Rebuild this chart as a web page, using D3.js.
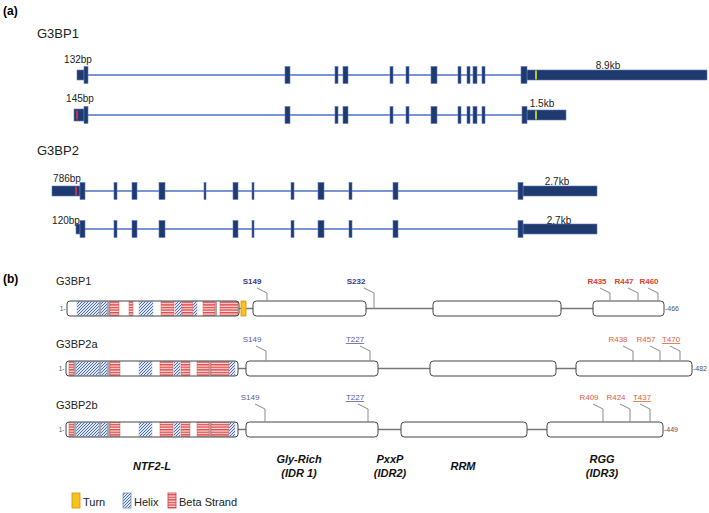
<!DOCTYPE html>
<html><head><meta charset="utf-8">
<script src="https://cdn.jsdelivr.net/npm/d3@7"></script>
<style>body{margin:0;background:#fff}svg{display:block;font-family:"Liberation Sans",Arial,sans-serif}</style>
</head><body><svg id="c" width="709" height="513"></svg>
<script>
// ---------------- DATA ----------------
// Panel (a): transcripts (schematic genomic coordinates)
const txGenes = ["G3BP1", "G3BP2"];
const tx5Labels = ["132bp", "145bp", "786bp", "120bp"];
const tx3Labels = ["8.9kb", "1.5kb", "2.7kb", "2.7kb"];
const txUtr5 = [[77, 84], [74, 84], [52, 80], [76, 80]];
const txFirstCds = [[84, 88], [84, 88], [80, 85], [80, 85]];
const g3bp1Exons = [[285, 290], [335, 338], [343, 348], [390, 393], [406, 409], [431, 437], [458, 461], [467, 470], [473, 477], [482, 485]];
const g3bp2aExons = [[114, 117], [132, 137], [159, 165], [204, 206], [233, 238], [252, 254], [291, 294], [318, 324], [349, 352], [393, 398]];
const g3bp2bExons = [[114, 117], [132, 137], [159, 165], [233, 238], [252, 254], [291, 294], [318, 324], [349, 352], [393, 398]];
const txInternal = [g3bp1Exons, g3bp1Exons, g3bp2aExons, g3bp2bExons];
const txLastCds = [[521, 527], [522, 527], [518, 523], [518, 523]];
const txUtr3 = [[527, 707], [527, 566], [523, 597], [523, 597]];
const txStartMark = [null, 77, 76, null];
const txStopMark = [536, 536, null, null];

// Panel (b): protein domains (schematic coordinates)
const proteins = ["G3BP1", "G3BP2a", "G3BP2b"];
const proteinLength = [466, 482, 449];
const ntf2Range = [[67, 239], [66, 238], [66, 238]];
const turnRange = [[241, 246], null, null];
const glyRange = [[253, 366], [246, 378], [246, 378]];
const rrmRange = [[433, 561], [430, 556], [401, 527]];
const rggRange = [[593, 664], [576, 692], [547, 663]];
const ntf2G3BP1 = [["H",77,99],["G",99,101],["H",101,107],["G",107,110],["B",110,119],["B",129,133],["H",139,153],["B",161,174],["H",175,182],["B",182,193],["H",193,197],["B",203,215],["G",215,217],["B",220,238]];
const ntf2G3BP2 = [["B",69,74],["G",74,76],["H",76,99],["G",99,101],["H",101,107],["G",107,110],["B",110,120],["H",139,152],["B",160,173],["H",174,180],["B",181,190],["B",197,209],["G",209,211],["B",211,229],["H",229,235]];
const ntf2Segments = [ntf2G3BP1, ntf2G3BP2, ntf2G3BP2];
const siteLabels = [
  ["S149", "S232", "R435", "R447", "R460"],
  ["S149", "T227", "R438", "R457", "T470"],
  ["S149", "T227", "R409", "R424", "T437"]
];
const siteAttach = [
  [267, 374, 610, 638, 658],
  [266, 370, 633, 660, 680],
  [265, 368, 603, 630, 650]
];
const siteLabelX = [
  [252, 356, 597, 624, 649],
  [252, 355, 618, 646, 671],
  [250, 355, 589, 616, 642]
];
const domainNames = [["NTF2-L"], ["Gly-Rich", "(IDR 1)"], ["PxxP", "(IDR2)"], ["RRM"], ["RGG", "(IDR3)"]];
const domainCenters = [152, 299, 390, 463, 602];
const legendItems = ["Turn", "Helix", "Beta Strand"];

// ---------------- DRAW ----------------
const svg = d3.select("#c");
const x = d3.scaleLinear().domain([0, 709]).range([0, 709]);
svg.append("rect").attr("width", 709).attr("height", 513).attr("fill", "#fff");

const defs = svg.append("defs");
const ph = defs.append("pattern").attr("id", "helix").attr("patternUnits", "userSpaceOnUse").attr("width", 3).attr("height", 3);
ph.append("rect").attr("width", 3).attr("height", 3).attr("fill", "#dfe7f6");
ph.append("path").attr("d", "M-1,1 l2,-2 M0,3 l3,-3 M2,4 l2,-2").attr("stroke", "#3d5fa8").attr("stroke-width", 0.9);
const pb = defs.append("pattern").attr("id", "beta").attr("patternUnits", "userSpaceOnUse").attr("width", 4).attr("height", 2.6);
pb.append("rect").attr("width", 4).attr("height", 2.6).attr("fill", "#fbe3e3");
pb.append("rect").attr("width", 4).attr("height", 1.4).attr("fill", "#e24b4b");

// Panel (a)
svg.append("text").attr("x", 3).attr("y", 15).attr("font-size", 12).attr("font-weight", "bold").text("(a)");
const geneTitleY = [38, 155];
txGenes.forEach((g, i) => svg.append("text").attr("x", 37).attr("y", geneTitleY[i]).attr("font-size", 13).attr("fill", "#222").text(g));

const rowY = [75, 115, 191, 229];
const lab5Y = [63, 102, 182, 224];
const lab5X = [78, 80, 67, 66];
const lab3Y = [69, 107, 185, 224];
const lab3X = [608, 542, 557, 559];
const cdsH = 17, utrH = 10;
const exFill = "#1f3a6e", exStroke = "#5b7cc4";

rowY.forEach((cy, i) => {
  const g = svg.append("g");
  g.append("line").attr("x1", x(txFirstCds[i][1])).attr("x2", x(txLastCds[i][0]))
    .attr("y1", cy).attr("y2", cy).attr("stroke", "#4e72c6").attr("stroke-width", 1.3);
  const boxes = [];
  boxes.push({r: txUtr5[i], h: (i === 1 ? 12 : utrH)});
  boxes.push({r: txFirstCds[i], h: cdsH});
  txInternal[i].forEach(r => boxes.push({r, h: cdsH}));
  boxes.push({r: txUtr3[i], h: utrH});
  boxes.push({r: txLastCds[i], h: cdsH});
  g.selectAll("rect.ex").data(boxes).join("rect")
    .attr("x", d => x(d.r[0])).attr("width", d => x(d.r[1]) - x(d.r[0]))
    .attr("y", d => cy - d.h / 2).attr("height", d => d.h)
    .attr("fill", exFill).attr("stroke", exStroke).attr("stroke-width", 0.6);
  if (txStartMark[i] != null) g.append("rect").attr("x", x(txStartMark[i]) - 0.8).attr("width", 1.6)
    .attr("y", cy - 4.5).attr("height", 9).attr("fill", "#e8304a");
  if (txStopMark[i] != null) g.append("rect").attr("x", x(txStopMark[i]) - 0.8).attr("width", 1.6)
    .attr("y", cy - 4.5).attr("height", 9).attr("fill", "#d8e82a");
  g.append("text").attr("x", lab5X[i]).attr("y", lab5Y[i]).attr("text-anchor", "middle").attr("font-size", 10).attr("fill", "#222").text(tx5Labels[i]);
  g.append("text").attr("x", lab3X[i]).attr("y", lab3Y[i]).attr("text-anchor", "middle").attr("font-size", 10).attr("fill", "#222").text(tx3Labels[i]);
});

// Panel (b)
svg.append("text").attr("x", 3).attr("y", 283).attr("font-size", 12).attr("font-weight", "bold").text("(b)");
const barTop = [301, 361, 422];
const barH = 15;
const nameY = [285, 348, 409];
const siteY = [284, 342, 400];
const blueC = ["#3b3b84", "#5a5aa2", "#5a5aa2"];
const redC = ["#e0402a", "#e2603e", "#e2603e"];

proteins.forEach((p, i) => {
  const g = svg.append("g");
  const top = barTop[i], cy = top + barH / 2;
  g.append("text").attr("x", 56).attr("y", nameY[i]).attr("font-size", 11).attr("fill", "#222").text(p);
  // connecting line
  g.append("line").attr("x1", x(ntf2Range[i][1])).attr("x2", x(rggRange[i][0])).attr("y1", cy).attr("y2", cy)
    .attr("stroke", "#777").attr("stroke-width", 1.5);
  // NTF2 box
  g.append("rect").attr("x", x(ntf2Range[i][0])).attr("y", top).attr("width", x(ntf2Range[i][1]) - x(ntf2Range[i][0]))
    .attr("height", barH).attr("rx", 3).attr("fill", "#fff");
  g.selectAll("rect.seg").data(ntf2Segments[i]).join("rect")
    .attr("x", d => x(d[1])).attr("width", d => x(d[2]) - x(d[1]))
    .attr("y", top + 0.5).attr("height", barH - 1)
    .attr("fill", d => d[0] === "H" ? "url(#helix)" : d[0] === "B" ? "url(#beta)" : "#a8a8a8")
    .attr("stroke", d => d[0] === "H" ? "#9fb3d8" : d[0] === "B" ? "#c84040" : "none")
    .attr("stroke-width", 0.4);
  g.append("rect").attr("x", x(ntf2Range[i][0])).attr("y", top).attr("width", x(ntf2Range[i][1]) - x(ntf2Range[i][0]))
    .attr("height", barH).attr("rx", 3).attr("fill", "none").attr("stroke", "#444").attr("stroke-width", 1);
  if (turnRange[i]) g.append("rect").attr("x", x(turnRange[i][0])).attr("y", top).attr("width", x(turnRange[i][1]) - x(turnRange[i][0]))
    .attr("height", barH).attr("fill", "#f6c21c").attr("stroke", "#d9901a").attr("stroke-width", 0.8);
  [glyRange[i], rrmRange[i], rggRange[i]].forEach(r => {
    g.append("rect").attr("x", x(r[0])).attr("y", top).attr("width", x(r[1]) - x(r[0])).attr("height", barH)
      .attr("rx", 3.5).attr("fill", "#fff").attr("stroke", "#444").attr("stroke-width", 1);
  });
  g.append("text").attr("x", x(ntf2Range[i][0]) - 1.5).attr("y", cy + 2.5).attr("text-anchor", "end").attr("font-size", 6.5).attr("fill", "#555").text("1-");
  g.append("text").attr("x", x(rggRange[i][1]) + 1).attr("y", cy + 2.5).attr("font-size", 7).attr("fill", "#555").text("-" + proteinLength[i]);
  // sites
  siteLabels[i].forEach((s, j) => {
    const ax = x(siteAttach[i][j]), lx = siteLabelX[i][j], ly = siteY[i];
    const endY = (i === 0 && j === 1) ? cy : top;
    const isBlue = j < 2;
    const col = isBlue ? blueC[i] : redC[i];
    g.append("path").attr("d", `M${ax - 10},${ly + 4}L${ax},${ly + 9}L${ax},${endY}`)
      .attr("fill", "none").attr("stroke", "#8a8a8a").attr("stroke-width", 1);
    const t = g.append("text").attr("x", lx).attr("y", ly).attr("text-anchor", "middle").attr("font-size", 8)
      .attr("fill", col).attr("font-weight", i === 0 ? "bold" : "normal")
      .attr("text-decoration", s[0] === "T" ? "underline" : null).text(s);
  });
});

// domain labels
domainNames.forEach((lines, k) => {
  const t = svg.append("text").attr("text-anchor", "middle").attr("font-size", 11).attr("font-weight", "bold")
    .attr("font-style", "italic").attr("fill", "#111");
  if (lines.length === 1) {
    t.append("tspan").attr("x", domainCenters[k]).attr("y", 470).text(lines[0]);
  } else {
    lines.forEach((l, m) => t.append("tspan").attr("x", domainCenters[k]).attr("y", 463 + m * 14).text(l));
  }
});

// legend
const legX = [72, 123, 168];
const legFill = ["#f6c21c", "url(#helix)", "url(#beta)"];
const legStroke = ["#d9901a", "#7a8fb8", "#c84040"];
legendItems.forEach((name, k) => {
  svg.append("rect").attr("x", legX[k]).attr("y", 493).attr("width", 8).attr("height", 15)
    .attr("fill", legFill[k]).attr("stroke", legStroke[k]).attr("stroke-width", 0.8);
  svg.append("text").attr("x", legX[k] + 11).attr("y", 506).attr("font-size", 11).attr("fill", "#222").text(name);
});
</script></body></html>
